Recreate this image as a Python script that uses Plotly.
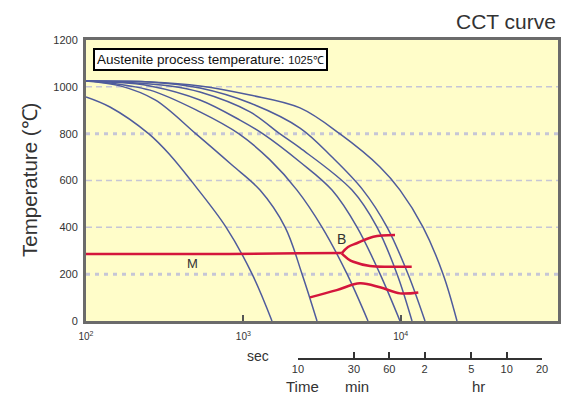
import plotly.graph_objects as go

# ---- data (time in seconds, temperature in degC) ----
cool1_t = [100, 142, 251, 342, 472, 776, 1136, 1521]
cool1_T = [957, 914, 799, 709, 594, 401, 201, 0]
cool2_t = [100, 165, 275, 500, 847, 1276, 1841, 2360, 2940]
cool2_T = [1025, 1004, 944, 799, 666, 559, 401, 201, 0]
cool3_t = [100, 123, 255, 530, 939, 1477, 2193, 3162, 4559, 6200]
cool3_T = [1025, 1021, 986, 893, 799, 688, 559, 401, 201, 0]
cool4_t = [100, 142, 255, 530, 952, 1334, 2292, 3661, 5278, 7389, 9904]
cool4_T = [1025, 1021, 1004, 944, 858, 799, 679, 559, 401, 201, 0]
cool5_t = [100, 165, 342, 530, 1103, 1711, 2292, 4906, 7072, 9478, 11807]
cool5_T = [1025, 1021, 1004, 978, 893, 799, 739, 559, 401, 201, 0]
cool6_t = [100, 255, 530, 1103, 2292, 3661, 5762, 8191, 11133, 14280]
cool6_T = [1025, 1021, 995, 931, 824, 700, 559, 401, 201, 0]
cool7_t = [100, 255, 530, 1103, 2292, 4116, 7389, 9904, 13868, 18580, 22810]
cool7_T = [1025, 1021, 1004, 965, 910, 799, 658, 559, 401, 201, 0]

ms_t = [100, 530, 2292, 4220]
ms_T = [286, 286, 289, 290]
bainite_up_t = [4220, 4627, 5255, 6700, 9204]
bainite_up_T = [289, 316, 332, 360, 367]
bainite_low_t = [4220, 4627, 5000, 6385, 8556, 11755]
bainite_low_T = [289, 265, 253, 235, 232, 232]
wave_t = [2653, 3922, 5514, 7389, 9904, 12945]
wave_T = [101, 132, 161, 144, 118, 122]

y_ticks = [0, 200, 400, 600, 800, 1000, 1200]
x_ticks = [100, 1000, 10000, 100000]
x_ticktext = ["10<sup>2</sup>", "10<sup>3</sup>", "10<sup>4</sup>", "10<sup>5</sup>"]
time_ticks = [600, 1800, 3600, 7200, 18000, 36000, 72000]
time_ticktext = ["10", "30", "60", "2", "5", "10", "20"]

FONT = "Liberation Sans, Arial, Helvetica, sans-serif"
BLUE = "#4f5b9c"
RED = "#d4163c"
TXT = "#333333"

fig = go.Figure()

for t, T in [(cool1_t, cool1_T), (cool2_t, cool2_T), (cool3_t, cool3_T),
             (cool4_t, cool4_T), (cool5_t, cool5_T), (cool6_t, cool6_T),
             (cool7_t, cool7_T)]:
    fig.add_trace(go.Scatter(x=t, y=T, mode="lines",
                             line=dict(color=BLUE, width=1.5, shape="spline", smoothing=1.0),
                             hoverinfo="skip", showlegend=False))

for t, T in [(ms_t, ms_T), (bainite_up_t, bainite_up_T),
             (bainite_low_t, bainite_low_T), (wave_t, wave_T)]:
    fig.add_trace(go.Scatter(x=t, y=T, mode="lines",
                             line=dict(color=RED, width=2.5, shape="spline", smoothing=1.0),
                             hoverinfo="skip", showlegend=False))

# dummy trace to create the secondary time axis
fig.add_trace(go.Scatter(x=[time_ticks[0], time_ticks[-1]], y=[0, 0], xaxis="x2", yaxis="y2",
                         mode="markers", marker=dict(opacity=0), hoverinfo="skip",
                         showlegend=False))

W, H = 562, 394
ml, mr, mt, mb = 86, 4, 40, 20
plot_h = H - mt - mb
plot_w = W - ml - mr
def py(p):
    return (H - mb - p) / plot_h
def px(p):
    return (p - ml) / plot_w

shapes = [dict(type="rect", xref="x domain", yref="y domain", x0=0, x1=1, y0=0, y1=1,
               fillcolor="#fffdc9", line=dict(width=0), layer="below")]
for v in y_ticks[1:-1]:
    if v in (200, 800):
        ln = dict(color="#c6c6d6", width=3, dash="4px,5px")
    else:
        ln = dict(color="#c6c6d6", width=1.5, dash="6px,4px")
    shapes.append(dict(type="line", xref="x domain", yref="y", x0=0, x1=1, y0=v, y1=v,
                       line=ln, layer="below"))

annotations = [
    dict(text="CCT curve", xref="paper", yref="paper", x=px(558), y=py(22),
         xanchor="right", yanchor="middle", showarrow=False,
         font=dict(family=FONT, size=21, color=TXT)),
    dict(text="Austenite process temperature: <span style='font-size:11px'>1025℃</span>",
         xref="paper", yref="paper", x=px(93), y=py(59.5), xanchor="left", yanchor="middle",
         showarrow=False, bgcolor="white", bordercolor="black", borderwidth=2, borderpad=2,
         font=dict(family=FONT, size=13.5, color="#111111")),
    dict(text="Temperature (℃)", xref="paper", yref="paper", x=px(29), y=py(180),
         xanchor="center", yanchor="middle", textangle=-90, showarrow=False,
         font=dict(family=FONT, size=20.5, color=TXT)),
    dict(text="M", x=2.674, y=246, xref="x", yref="y", showarrow=False,
         font=dict(family=FONT, size=13, color=TXT)),
    dict(text="B", x=3.627, y=352, xref="x", yref="y", showarrow=False,
         font=dict(family=FONT, size=14, color=TXT)),
    dict(text="sec", xref="paper", yref="paper", x=px(258), y=py(356),
         xanchor="center", yanchor="middle", showarrow=False,
         font=dict(family=FONT, size=14, color=TXT)),
    dict(text="Time", xref="paper", yref="paper", x=px(302), y=py(386),
         xanchor="center", yanchor="middle", showarrow=False,
         font=dict(family=FONT, size=15, color=TXT)),
    dict(text="min", xref="paper", yref="paper", x=px(357), y=py(386),
         xanchor="center", yanchor="middle", showarrow=False,
         font=dict(family=FONT, size=15, color=TXT)),
    dict(text="hr", xref="paper", yref="paper", x=px(478), y=py(386),
         xanchor="center", yanchor="middle", showarrow=False,
         font=dict(family=FONT, size=15, color=TXT)),
]

fig.update_layout(
    width=W, height=H,
    margin=dict(l=ml, r=mr, t=mt, b=mb, autoexpand=False),
    paper_bgcolor="white", plot_bgcolor="rgba(0,0,0,0)",
    font=dict(family=FONT, color=TXT),
    showlegend=False,
    xaxis=dict(type="log", range=[2, 5], domain=[0, 1], anchor="y", automargin=False,
               tickvals=x_ticks, ticktext=x_ticktext, ticks="inside", ticklen=6,
               tickwidth=1.5, tickcolor="#555555", showgrid=False, zeroline=False,
               showline=True, mirror=True, linewidth=3, linecolor="#6b6b6b",
               tickfont=dict(size=10, color=TXT), ticklabelstandoff=4),
    yaxis=dict(range=[0, 1200], domain=[py(321), 1], anchor="x", automargin=False,
               tickvals=y_ticks, ticks="", showgrid=False, zeroline=False,
               showline=True, mirror=True, linewidth=3, linecolor="#6b6b6b",
               tickfont=dict(size=11, color=TXT), ticklabelstandoff=3),
    xaxis2=dict(type="log", range=[2.7782, 4.8573], domain=[px(298), px(542)],
                anchor="free", position=py(359), automargin=False,
                tickvals=time_ticks, ticktext=time_ticktext, ticks="inside", ticklen=6,
                tickwidth=1.5, tickcolor="#333333", showgrid=False, zeroline=False,
                showline=True, linewidth=1.5, linecolor="#333333",
                tickfont=dict(size=11, color=TXT)),
    yaxis2=dict(domain=[0, 0.05], anchor="x2", visible=False, range=[-1, 1], automargin=False),
    shapes=shapes,
    annotations=annotations,
)

fig.write_html("out.html", config={"displayModeBar": False},
               post_script="document.body.style.margin='0px';")
